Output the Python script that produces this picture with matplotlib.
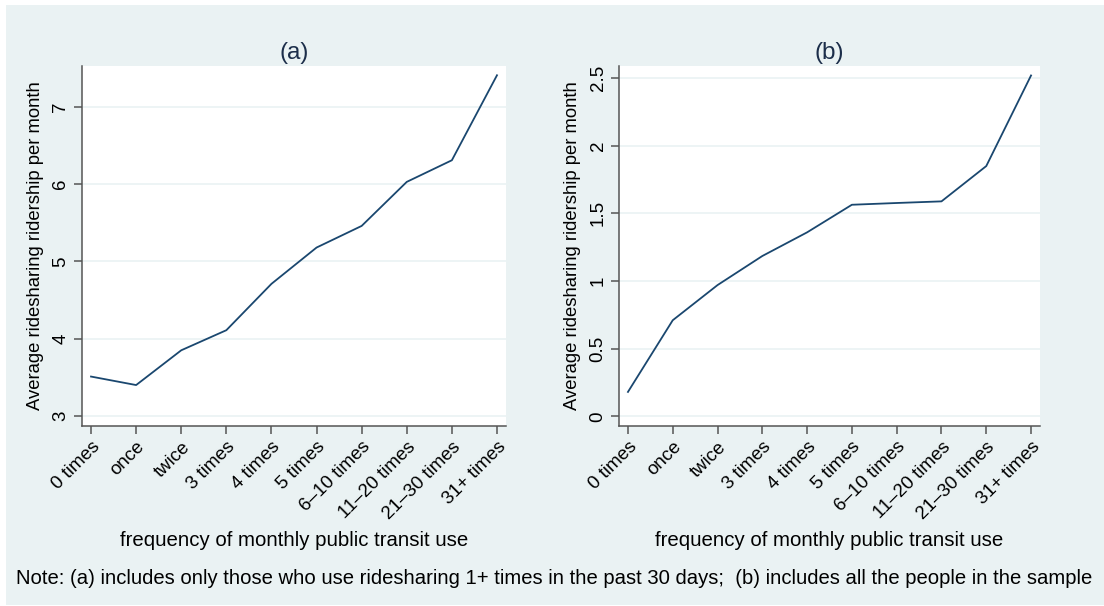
import matplotlib.pyplot as plt
from matplotlib.patches import Rectangle

# categories (x axis) and series values
categorias = ["0 times", "once", "twice", "3 times", "4 times", "5 times",
              "6–10 times", "11–20 times", "21–30 times", "31+ times"]
serie_a = [3.51, 3.40, 3.85, 4.11, 4.71, 5.18, 5.46, 6.03, 6.31, 7.41]
serie_b = [0.18, 0.71, 0.97, 1.185, 1.36, 1.564, 1.577, 1.589, 1.85, 2.52]
ticks_a = [3, 4, 5, 6, 7]
ticks_b = [0, 0.5, 1, 1.5, 2, 2.5]
ticklabels_b = ["0", "0.5", "1", "1.5", "2", "2.5"]

plt.rcParams['font.family'] = ['Liberation Sans', 'DejaVu Sans']

W, H = 1104, 606
fondo = '#EAF2F3'
linea = '#1A476F'

fig = plt.figure(figsize=(W / 100, H / 100), dpi=100, facecolor='white')
fig.patches.append(Rectangle((6 / W, 1 / H), 1 - 6 / W, 600 / H, transform=fig.transFigure,
                             facecolor=fondo, edgecolor='none', zorder=-10))


def panel(rect, valores, ticks, ticklabels, ylim, titulo):
    x0, y0, x1, y1 = rect
    ax = fig.add_axes([x0 / W, 1 - y1 / H, (x1 - x0) / W, (y1 - y0) / H])
    ax.set_facecolor('white')
    xs = list(range(len(categorias)))
    ax.plot(xs, valores, color=linea, lw=1.3)
    ax.set_xlim(-0.2, 9.2)
    ax.set_ylim(*ylim)
    ax.set_xticks(xs)
    ax.set_xticklabels(categorias, rotation=45, ha='right', rotation_mode='anchor', fontsize=13.5)
    ax.set_yticks(ticks)
    ax.set_yticklabels(ticklabels, rotation=90, va='center', fontsize=13.5)
    ax.grid(axis='y', color=fondo, lw=1.2)
    ax.set_axisbelow(True)
    for s in ['top', 'right']:
        ax.spines[s].set_visible(False)
    for s in ['left', 'bottom']:
        ax.spines[s].set_color('#555555')
        ax.spines[s].set_linewidth(1.1)
    ax.tick_params(direction='out', length=6, width=1.1, color='#555555', pad=3)
    ax.set_title(titulo, fontsize=17.5, color='#1c2e4a', pad=5)
    ax.set_ylabel("Average ridesharing ridership per month", fontsize=13.3, labelpad=6)
    ax.set_xlabel("frequency of monthly public transit use", fontsize=14.7, labelpad=6)
    return ax


panel((82, 66, 506, 426), serie_a, ticks_a, [str(t) for t in ticks_a], (2.87, 7.53), "(a)")
panel((619, 66, 1040, 426), serie_b, ticks_b, ticklabels_b, (-0.072, 2.59), "(b)")

fig.text(16 / W, 1 - 578 / H,
         "Note: (a) includes only those who use ridesharing 1+ times in the past 30 days;  "
         "(b) includes all the people in the sample",
         fontsize=14.6, va='center', ha='left')

fig.savefig("out.png", dpi=100, facecolor=fig.get_facecolor())
